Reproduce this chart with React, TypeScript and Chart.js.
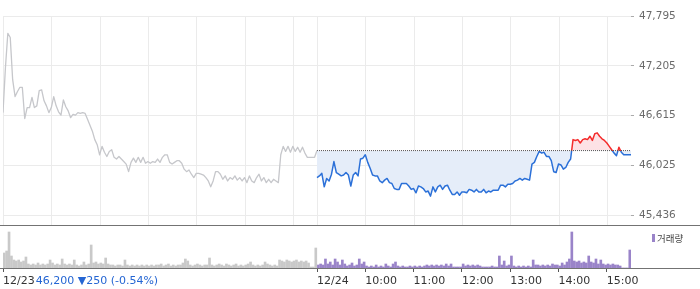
import React, { useEffect, useRef } from "react";
import { Chart, registerables } from "chart.js";

Chart.register(...registerables);

// ---------------- data ----------------
const PREV_CLOSE = 46200; // 12/23 close (dotted reference line)
const SESSION_MINUTES = 390; // 09:00 - 15:30
const SAMPLE_STEP = 3; // minutes between samples

const PRICE_TICKS = [47795, 47205, 46615, 46025, 45436];
const PRICE_MIN = 45318;
const PRICE_MAX = 47795;
const VOLUME_MAX = 43; // thousand shares

const X_TICK_MINUTES = [0, 390, 450, 510, 570, 630, 690, 750];
const X_TICK_LABELS = ["12/23", "12/24", "10:00", "11:00", "12:00", "13:00", "14:00", "15:00"];
const GRID_MINUTES = [0, 60, 120, 180, 240, 300, 360, 390, 450, 510, 570, 630, 690, 750];

const INFO_TEXT = "46,200 ▼250 (-0.54%)";
const LEGEND_TEXT = "거래량";

// 12/23 price every 3 minutes from 09:00
const day1Prices = [
  46650, 47180, 47590, 47540, 47040, 46840, 46900, 46950, 46950, 46580,
  46710, 46710, 46830, 46710, 46730, 46910, 46920, 46790, 46730, 46650,
  46710, 46840, 46730, 46660, 46620, 46800, 46720, 46670, 46590, 46630,
  46620, 46650, 46640, 46650, 46640, 46570, 46500, 46430, 46330, 46270,
  46150, 46250, 46180, 46130, 46190, 46210, 46120, 46100, 46130, 46100,
  46070, 46040, 45950, 46060, 46110, 46060, 46120, 46060, 46120, 46050,
  46070, 46050, 46070, 46060, 46100, 46060, 46120, 46150, 46150, 46060,
  46040, 46060, 46080, 46080, 46050, 45980, 45950, 45970, 45920, 45880,
  45930, 45930, 45920, 45910, 45880, 45840, 45770, 45840, 45950, 45950,
  45920, 45860, 45900, 45840, 45880, 45860, 45900, 45850, 45880, 45840,
  45880, 45820, 45900, 45840, 45820, 45880, 45920, 45840, 45880, 45820,
  45860, 45820, 45860, 45840, 45820, 46150, 46250, 46190, 46250, 46180,
  46250, 46190, 46240, 46180, 46240, 46170, 46120, 46120, 46120, 46120,
  46200,
];

// 12/24 price every 3 minutes from 09:00
const day2Prices = [
  45880, 45900, 45930, 45770, 45870, 45840, 45920, 46070, 45940, 45920,
  45900, 45910, 45940, 45910, 45780, 45910, 45940, 45900, 46100, 46110,
  46150, 46060, 45990, 45910, 45900, 45900, 45840, 45820, 45850, 45870,
  45820, 45810, 45750, 45740, 45740, 45810, 45810, 45810, 45780, 45740,
  45750, 45700, 45780, 45770, 45750, 45710, 45720, 45660, 45770, 45710,
  45770, 45790, 45740, 45780, 45790, 45730, 45680, 45680, 45710, 45670,
  45710, 45710, 45700, 45740, 45730, 45710, 45740, 45710, 45710, 45740,
  45700, 45720, 45710, 45730, 45730, 45730, 45790, 45790, 45770, 45800,
  45800, 45810, 45840, 45850, 45870, 45850, 45870, 45860, 45850, 46040,
  46060, 46130, 46190, 46170, 46180, 46130, 46130, 46080, 45950, 45940,
  46040, 46030, 45980, 46000, 46060, 46100, 46330, 46320, 46330, 46290,
  46330, 46340, 46330, 46370, 46320, 46400, 46410, 46370, 46340, 46320,
  46290, 46250, 46210, 46170, 46140, 46240, 46180, 46150, 46150, 46150,
  46150,
];

// volume (thousand shares) per 3-minute bucket
const day1Volume = [
  15, 17, 36, 12, 8, 7, 8, 6, 7, 11,
  4, 3, 4, 3, 5, 3, 4, 3, 4, 8,
  5, 3, 4, 3, 9, 4, 3, 4, 3, 8,
  3, 2, 3, 6, 3, 4, 23, 5, 6, 4,
  5, 4, 10, 4, 3, 3, 2, 3, 3, 2,
  8, 3, 2, 3, 2, 3, 2, 3, 2, 3,
  2, 3, 2, 3, 3, 4, 2, 3, 4, 2,
  3, 2, 3, 3, 5, 9, 7, 3, 2, 3,
  4, 3, 2, 3, 3, 10, 3, 2, 3, 4,
  3, 2, 4, 3, 2, 3, 4, 2, 3, 2,
  3, 4, 6, 3, 2, 3, 2, 3, 6, 4,
  3, 2, 3, 2, 8, 7, 6, 8, 7, 6,
  7, 8, 6, 7, 6, 7, 5, 1, 1, 20,
];
const day2Volume = [
  3, 4, 3, 9, 4, 6, 3, 9, 6, 3,
  8, 4, 2, 3, 5, 2, 3, 9, 4, 6,
  2, 1, 2, 1, 3, 1, 2, 1, 4, 2,
  1, 4, 6, 2, 1, 2, 1, 1, 2, 1,
  2, 1, 2, 1, 2, 3, 2, 3, 2, 3,
  2, 3, 2, 4, 2, 4, 1, 1, 1, 1,
  4, 2, 3, 2, 3, 2, 3, 2, 1, 1,
  1, 1, 2, 1, 1, 12, 3, 7, 2, 3,
  12, 2, 1, 2, 1, 2, 1, 2, 1, 8,
  3, 3, 2, 3, 2, 3, 2, 4, 3, 3,
  2, 5, 3, 6, 9, 36, 7, 6, 7, 5,
  6, 5, 12, 6, 5, 9, 4, 8, 4, 3,
  4, 3, 4, 3, 3, 2, 0, 0, 0, 18,
];

// ---------------- styles ----------------
const FONT = "'DejaVu Sans', sans-serif";
const RED = "#f42b2b";
const BLUE = "#2b70d8";
const RED_FILL = "#fde2e5";
const BLUE_FILL = "#e5edf9";
const GRAY_LINE = "#c6c7cb";
const VOL_GRAY = "#c9c9c9";
const VOL_PURPLE = "#9a84c9";
const GRID = "#ebebeb";
const INFO_BLUE = "#2566d3";
const X_TICK_LEN = 4;
const X_TICK_PAD = 3;
const X_FONT_SIZE = 11;

function splitColor(chart: any, above: string, below: string) {
  const y = chart && chart.scales && chart.scales.y;
  if (!y || !chart.height || !chart.ctx) return below;
  const yb = y.getPixelForValue(PREV_CLOSE);
  const h = chart.height;
  if (!isFinite(yb) || !isFinite(h) || h <= 0) return below;
  const t = Math.min(Math.max(yb / h, 0), 1);
  const g = chart.ctx.createLinearGradient(0, 0, 0, h);
  g.addColorStop(0, above);
  g.addColorStop(t, above);
  g.addColorStop(t, below);
  g.addColorStop(1, below);
  return g;
}

const decorPlugin = {
  id: "decor",
  beforeDatasetsDraw(chart: any) {
    const { ctx } = chart;
    const x = chart.scales.x;
    const y = chart.scales.y;
    ctx.save();
    ctx.strokeStyle = GRID;
    ctx.lineWidth = 1;
    ctx.beginPath();
    for (const m of GRID_MINUTES) {
      const px = Math.round(x.getPixelForValue(m)) + 0.5;
      ctx.moveTo(px, y.top);
      ctx.lineTo(px, y.bottom);
    }
    ctx.stroke();
    ctx.restore();
  },
  afterDraw(chart: any) {
    const { ctx, width } = chart;
    const x = chart.scales.x;
    const y = chart.scales.y;
    const yv = chart.scales.yv;
    ctx.save();
    // panel separator and time baseline
    ctx.strokeStyle = "#737373";
    ctx.lineWidth = 1;
    ctx.beginPath();
    const sep = Math.round(y.bottom) + 0.5;
    ctx.moveTo(0, sep);
    ctx.lineTo(width, sep);
    const base = Math.round(x.top) + 0.5;
    ctx.moveTo(0, base);
    ctx.lineTo(width, base);
    ctx.stroke();

    // price info text next to the first date label
    ctx.font = `${X_FONT_SIZE}px ${FONT}`;
    const firstW = ctx.measureText(X_TICK_LABELS[0]).width;
    ctx.fillStyle = INFO_BLUE;
    ctx.textAlign = "left";
    ctx.textBaseline = "middle";
    const ty = x.top + X_TICK_LEN + X_TICK_PAD + (X_FONT_SIZE * 1.2) / 2;
    ctx.fillText(INFO_TEXT, x.getPixelForValue(0) + firstW + 1, ty);

    // volume legend
    const lx = chart.chartArea.right + 21;
    const ly = yv.top + 13;
    ctx.fillStyle = VOL_PURPLE;
    ctx.fillRect(lx, ly - 4, 3, 8);
    ctx.fillStyle = "#444";
    ctx.font = `9.5px 'Noto Sans CJK KR', sans-serif`;
    ctx.textBaseline = "middle";
    ctx.fillText(LEGEND_TEXT, lx + 5, ly);
    ctx.restore();
  },
};

export default function App() {
  const ref = useRef<HTMLCanvasElement>(null);

  useEffect(() => {
    const canvas = ref.current;
    if (!canvas) return;

    const day1 = day1Prices.map((p, i) => ({ x: i * SAMPLE_STEP, y: p }));
    const day2 = day2Prices.map((p, i) => ({ x: SESSION_MINUTES + i * SAMPLE_STEP, y: p }));
    const vol1 = day1Volume.map((v, i) => ({ x: i * SAMPLE_STEP + SAMPLE_STEP / 2, y: v }));
    const vol2 = day2Volume.map((v, i) => ({
      x: SESSION_MINUTES + i * SAMPLE_STEP + SAMPLE_STEP / 2,
      y: v,
    }));
    const refLine = [
      { x: SESSION_MINUTES, y: PREV_CLOSE },
      { x: SESSION_MINUTES * 2, y: PREV_CLOSE },
    ];

    const chart = new Chart(canvas, {
      type: "line",
      data: {
        datasets: [
          {
            type: "line",
            data: refLine,
            borderColor: "#555",
            borderWidth: 1,
            borderDash: [1, 1],
            pointRadius: 0,
            fill: false,
            yAxisID: "y",
            order: 0,
          },
          {
            type: "line",
            data: day2,
            borderColor: (c: any) => splitColor(c.chart, RED, BLUE),
            borderWidth: 1.5,
            borderJoinStyle: "round",
            pointRadius: 0,
            fill: { target: { value: PREV_CLOSE }, above: RED_FILL, below: BLUE_FILL },
            yAxisID: "y",
            order: 1,
          },
          {
            type: "line",
            data: day1,
            borderColor: GRAY_LINE,
            borderWidth: 1.3,
            borderJoinStyle: "round",
            pointRadius: 0,
            fill: false,
            yAxisID: "y",
            order: 2,
          },
          {
            type: "bar",
            data: vol1,
            backgroundColor: VOL_GRAY,
            barThickness: 2,
            grouped: false,
            yAxisID: "yv",
            order: 3,
          },
          {
            type: "bar",
            data: vol2,
            backgroundColor: VOL_PURPLE,
            barThickness: 2,
            grouped: false,
            yAxisID: "yv",
            order: 3,
          },
        ] as any,
      },
      options: {
        animation: false,
        responsive: false,
        events: [],
        layout: { autoPadding: false, padding: { left: 1, top: 16, right: 0, bottom: 0 } },
        plugins: { legend: { display: false }, tooltip: { enabled: false } },
        elements: { point: { radius: 0 }, line: { tension: 0 } },
        scales: {
          x: {
            type: "linear",
            min: 0,
            max: SESSION_MINUTES * 2,
            offset: false,
            afterBuildTicks: (s: any) => {
              s.ticks = X_TICK_MINUTES.map((v) => ({ value: v }));
            },
            afterFit: (s: any) => {
              s.height = 21;
            },
            grid: {
              offset: false,
              drawOnChartArea: false,
              drawTicks: true,
              tickLength: X_TICK_LEN,
              tickColor: "#555",
            },
            border: { display: false },
            ticks: {
              autoSkip: false,
              maxRotation: 0,
              align: "start",
              padding: X_TICK_PAD,
              color: "#333",
              font: { size: X_FONT_SIZE, family: FONT },
              callback: (v: any) => {
                const i = X_TICK_MINUTES.indexOf(Number(v));
                return i >= 0 ? X_TICK_LABELS[i] : "";
              },
            },
          },
          y: {
            type: "linear",
            position: "right",
            stack: "panels",
            stackWeight: 209,
            min: PRICE_MIN,
            max: PRICE_MAX,
            afterBuildTicks: (s: any) => {
              s.ticks = PRICE_TICKS.map((v) => ({ value: v }));
            },
            afterFit: (s: any) => {
              s.width = 69;
            },
            grid: { color: GRID, tickLength: 3, tickColor: "#aaa" },
            border: { display: false },
            ticks: {
              padding: 5,
              color: "#6b6b6b",
              font: { size: 10.5, family: FONT },
              callback: (v: any) => Number(v).toLocaleString("en-US"),
            },
          },
          yv: {
            type: "linear",
            position: "right",
            stack: "panels",
            stackWeight: 43,
            min: 0,
            max: VOLUME_MAX,
            afterFit: (s: any) => {
              s.width = 69;
            },
            grid: { display: false },
            border: { display: false },
            ticks: { display: false },
          },
        } as any,
      },
      plugins: [decorPlugin],
    });
    chart.update();

    return () => chart.destroy();
  }, []);

  return (
    <div
      style={{
        position: "absolute",
        left: 0,
        top: 0,
        width: 700,
        height: 289,
        background: "#fff",
      }}
    >
      <canvas ref={ref} width={700} height={289} style={{ display: "block" }} />
    </div>
  );
}
